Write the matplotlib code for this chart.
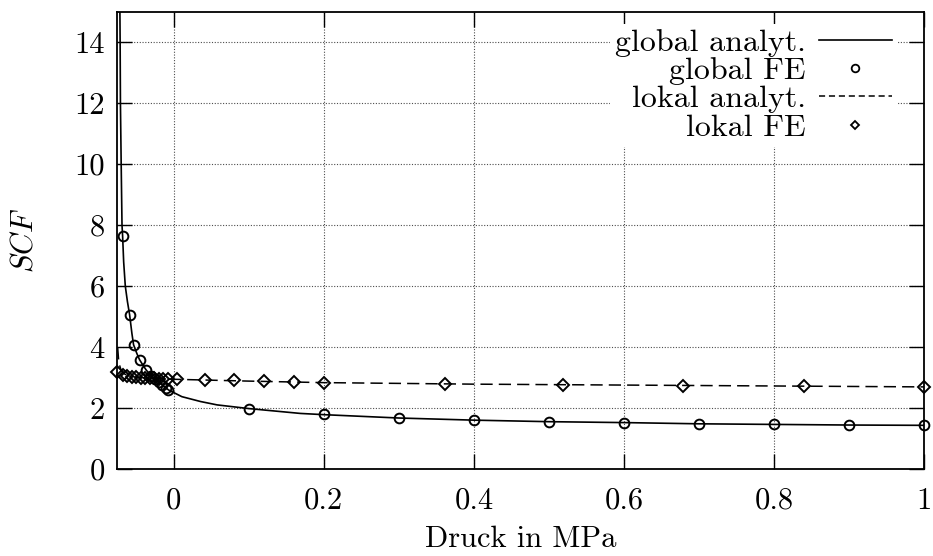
import matplotlib
matplotlib.use("Agg")
import matplotlib.pyplot as plt
from matplotlib.lines import Line2D

plt.rcParams['font.family'] = ['cmr10', 'DejaVu Serif']
plt.rcParams['mathtext.fontset'] = 'cm'
plt.rcParams['axes.formatter.use_mathtext'] = True
plt.rcParams['axes.unicode_minus'] = False

# global analytisch (SCF ueber Druck)
glob_an_x = [-0.0715, -0.0712, -0.0708, -0.0698, -0.0687, -0.0679, -0.0665, -0.0643,
             -0.0615, -0.0586, -0.0555, -0.0533, -0.049, -0.0453, -0.0405, -0.0364,
             -0.03, -0.025, -0.015, -0.0067, 0.011, 0.036, 0.058, 0.1, 0.169,
             0.2, 0.3, 0.4, 0.5, 0.6, 0.7, 0.8, 0.9, 1.0]
glob_an_y = [15.0, 14.0, 12.0, 10.0, 8.0, 7.65, 6.8, 6.0,
             5.5, 5.07, 4.45, 4.08, 3.8, 3.59, 3.4, 3.25,
             3.07, 2.95, 2.76, 2.6, 2.38, 2.22, 2.11, 1.99, 1.83,
             1.79, 1.68, 1.61, 1.56, 1.53, 1.49, 1.47, 1.45, 1.44]

# global FE
glob_fe_x = [-0.068, -0.0586, -0.0533, -0.0453, -0.0364, -0.03, -0.025, -0.02,
             -0.015, -0.01, -0.007, 0.1, 0.2, 0.3, 0.4, 0.5, 0.6, 0.7, 0.8, 0.9, 1.0]
glob_fe_y = [7.65, 5.07, 4.08, 3.57, 3.24, 3.07, 2.95, 2.86,
             2.77, 2.68, 2.6, 1.99, 1.80, 1.68, 1.61, 1.56, 1.53, 1.48, 1.47, 1.44, 1.44]

# lokal analytisch
lok_an_x = [-0.0745, -0.073, -0.07, -0.065, -0.06, -0.05, -0.04, -0.02, 0.0,
            0.1, 0.2, 0.4, 0.6, 0.8, 1.0]
lok_an_y = [4.0, 3.5, 3.25, 3.12, 3.06, 3.02, 3.0, 2.97, 2.95,
            2.89, 2.84, 2.79, 2.76, 2.73, 2.70]

# lokal FE
lok_fe_x = [-0.075, -0.068, -0.062, -0.056, -0.05, -0.044, -0.038, -0.032, -0.026,
            -0.02, -0.014, -0.008, 0.004, 0.042, 0.081, 0.121, 0.161, 0.2,
            0.361, 0.519, 0.678, 0.84, 1.0]
lok_fe_y = [3.2, 3.1, 3.06, 3.03, 3.01, 3.0, 2.99, 2.98, 2.98,
            2.97, 2.97, 2.96, 2.95, 2.93, 2.91, 2.88, 2.86, 2.83,
            2.79, 2.77, 2.74, 2.72, 2.70]

xticks = [0, 0.2, 0.4, 0.6, 0.8, 1.0]
xticklabels = ['0', '0.2', '0.4', '0.6', '0.8', '1']
yticks = [0, 2, 4, 6, 8, 10, 12, 14]
yticklabels = ['0', '2', '4', '6', '8', '10', '12', '14']

fs = 22

fig = plt.figure(figsize=(9.33, 5.56), dpi=100)
ax = fig.add_axes([0.1257, 0.156, 0.8650, 0.823])

ax.plot(glob_an_x, glob_an_y, color='black', lw=1.2, zorder=3)
ax.plot(lok_an_x, lok_an_y, color='black', lw=1.1, dashes=(8, 4), zorder=3)
ax.plot(glob_fe_x, glob_fe_y, ls='none', marker='o', ms=7, mfc='none', mec='black',
        mew=1.4, clip_on=False, zorder=4)
ax.plot(lok_fe_x, lok_fe_y, ls='none', marker='D', ms=6, mfc='none', mec='black',
        mew=1.4, clip_on=False, zorder=4)

ax.set_xlim(-0.075, 1.0)
ax.set_ylim(0, 15)
ax.set_xticks(xticks)
ax.set_xticklabels(xticklabels, fontsize=fs)
ax.set_yticks(yticks)
ax.set_yticklabels(yticklabels, fontsize=fs)
ax.tick_params(direction='in', length=10.5, width=1.0, top=True, right=True, pad=9)
ax.tick_params(axis='x', pad=13)

ax.grid(True, color='0.3', lw=0.8, ls=(0, (1, 1.5)))
ax.set_axisbelow(True)
for s in ax.spines.values():
    s.set_linewidth(1.3)

ax.set_xlabel('Druck in MPa', fontsize=fs, labelpad=8)
ax.set_ylabel('$SCF$', fontsize=fs)
ax.yaxis.set_label_coords(-0.097, 0.5)

handles = [
    Line2D([], [], color='black', lw=1.2),
    Line2D([], [], ls='none', marker='o', ms=5.5, mfc='none', mec='black', mew=1.3),
    Line2D([], [], color='black', lw=1.1, dashes=(4, 2.5)),
    Line2D([], [], ls='none', marker='D', ms=4.5, mfc='none', mec='black', mew=1.3),
]
labels = ['global analyt.', 'global FE', 'lokal analyt.', 'lokal FE']
leg = ax.legend(handles, labels, loc='upper right', bbox_to_anchor=(0.966, 0.974),
                markerfirst=False, fontsize=23, frameon=True, fancybox=False,
                edgecolor='none', facecolor='white', framealpha=1.0,
                handlelength=2.3, handletextpad=0.4, labelspacing=0.0,
                borderpad=0.15, borderaxespad=0)
leg.set_zorder(5)

fig.savefig('out.png', dpi=100)
